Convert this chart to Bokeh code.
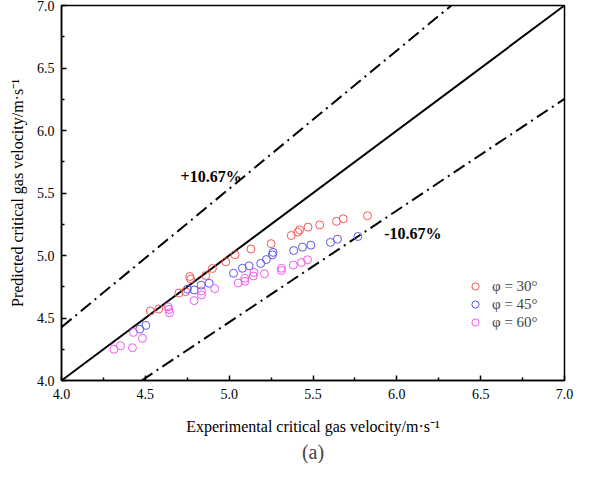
from bokeh.plotting import figure
from bokeh.models import (FixedTicker, PrintfTickFormatter, Legend, LegendItem,
                          Title, Range1d)
from bokeh.core.properties import value
from bokeh.embed import file_html
from bokeh.resources import INLINE

# ---------------- data ----------------
exp30 = [4.53, 4.58, 4.70, 4.74, 4.765, 4.77, 4.86, 4.90, 4.98, 5.035, 5.13, 5.25,
         5.37, 5.41, 5.42, 5.47, 5.54, 5.64, 5.68, 5.825]
pred30 = [4.556, 4.572, 4.700, 4.711, 4.832, 4.812, 4.840, 4.896, 4.949, 5.006, 5.052, 5.095,
          5.160, 5.187, 5.205, 5.227, 5.245, 5.273, 5.294, 5.318]

exp45 = [4.467, 4.503, 4.751, 4.791, 4.833, 4.881, 5.026, 5.079, 5.119, 5.188, 5.222, 5.258,
         5.262, 5.385, 5.437, 5.487, 5.604, 5.646, 5.768]
pred45 = [4.411, 4.441, 4.731, 4.724, 4.763, 4.778, 4.858, 4.898, 4.917, 4.936, 4.968, 5.005,
          5.025, 5.040, 5.067, 5.083, 5.105, 5.131, 5.152]

exp60 = [4.313, 4.352, 4.423, 4.429, 4.483, 4.636, 4.641, 4.644, 4.791, 4.835, 4.835, 4.914,
         5.054, 5.094, 5.093, 5.144, 5.148, 5.210, 5.312, 5.312, 5.383, 5.431, 5.467]
pred60 = [4.250, 4.278, 4.262, 4.385, 4.338, 4.589, 4.569, 4.541, 4.639, 4.684, 4.716, 4.735,
          4.780, 4.794, 4.818, 4.836, 4.864, 4.854, 4.880, 4.898, 4.924, 4.944, 4.966]

series_labels = ["φ = 30°", "φ = 45°", "φ = 60°"]
series_colors = ["#f05858", "#5858f0", "#f058f0"]

error_band = 0.1067
axis_min, axis_max = 4.0, 7.0
ticks = [4.0, 4.5, 5.0, 5.5, 6.0, 6.5, 7.0]
minor = [4.25, 4.75, 5.25, 5.75, 6.25, 6.75]

# ---------------- figure ----------------
p = figure(width=576, height=463, output_backend="svg", toolbar_location=None,
           x_range=Range1d(axis_min, axis_max), y_range=Range1d(axis_min, axis_max),
           min_border_left=61, min_border_right=12, min_border_top=5, min_border_bottom=50)
p.background_fill_color = "white"
p.border_fill_color = "white"
p.outline_line_color = "black"
p.outline_line_width = 1.5
p.grid.visible = False

# reference lines
p.line([axis_min, axis_max], [axis_min, axis_max], line_color="black", line_width=2)
up_x = [axis_min, axis_max / (1 + error_band)]
p.line(up_x, [v * (1 + error_band) for v in up_x], line_color="black", line_width=2,
       line_dash="13 5 2 5")
lo_x = [axis_min / (1 - error_band), axis_max]
p.line(lo_x, [v * (1 - error_band) for v in lo_x], line_color="black", line_width=2,
       line_dash="13 5 2 5")

items = []
for ex, pr, lab, col in zip([exp30, exp45, exp60], [pred30, pred45, pred60],
                            series_labels, series_colors):
    r = p.scatter(ex, pr, marker="circle", size=8, fill_color=None, line_color=col,
                  line_width=1)
    items.append(LegendItem(label=lab, renderers=[r]))

# annotations
p.text(x=[4.71], y=[5.63], text=["+10.67%"], text_font=value("Liberation Serif"),
       text_font_style="bold", text_font_size="16px", text_baseline="middle",
       text_align="left", text_color="black")
p.text(x=[5.925], y=[5.175], text=["-10.67%"], text_font=value("Liberation Serif"),
       text_font_style="bold", text_font_size="16px", text_baseline="middle",
       text_align="left", text_color="black")

legend = Legend(items=items, location=(404, 49), padding=0, margin=0, spacing=0,
                label_height=18, glyph_height=18, glyph_width=20, label_standoff=7,
                border_line_alpha=0, background_fill_alpha=0,
                label_text_font="Liberation Serif", label_text_font_size="15px")
p.add_layout(legend)

# axes
for ax in (p.xaxis[0], p.yaxis[0]):
    ax.ticker = FixedTicker(ticks=ticks, minor_ticks=minor)
    ax.formatter = PrintfTickFormatter(format="%.1f")
    ax.major_tick_in = 5
    ax.major_tick_out = 0
    ax.minor_tick_in = 3
    ax.minor_tick_out = 0
    ax.axis_line_width = 1.5
    ax.major_tick_line_width = 1.5
    ax.minor_tick_line_width = 1.5
    ax.major_label_text_font = "Liberation Serif"
    ax.major_label_text_font_size = "14px"
    ax.major_label_text_color = "black"
    ax.axis_label_text_font = "Liberation Serif"
    ax.axis_label_text_font_size = "16px"
    ax.axis_label_text_font_style = "normal"
    ax.axis_label_text_color = "black"

p.xaxis.axis_label = "Experimental critical gas velocity/m·s⁻¹"
p.yaxis.axis_label = "Predicted critical gas velocity/m·s⁻¹"
p.xaxis.major_label_standoff = 8
p.yaxis.major_label_standoff = 7
p.xaxis.axis_label_standoff = 16
p.yaxis.axis_label_standoff = 8

p.add_layout(Title(text="(a)", align="center", text_font="Liberation Serif",
                   text_font_size="20px", text_font_style="normal", standoff=2), "below")

open("out.html", "w").write(file_html(p, INLINE))
